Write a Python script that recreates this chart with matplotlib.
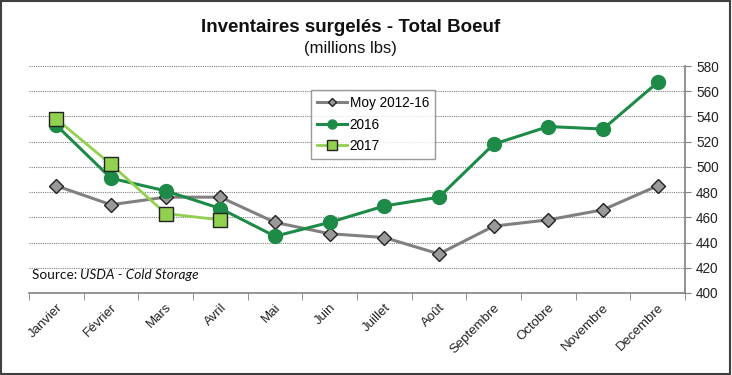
import numpy as np
import matplotlib
matplotlib.use("Agg")
import matplotlib.pyplot as plt

mois = ['Janvier', 'Février', 'Mars', 'Avril', 'Mai', 'Juin', 'Juillet',
        'Août', 'Septembre', 'Octobre', 'Novembre', 'Decembre']
moy = [485, 470, 476, 476, 456, 447, 444, 431, 453, 458, 466, 485]
an2016 = [533, 491, 481, 467, 445, 456, 469, 476, 518, 532, 530, 567]
an2017 = [538, 502, 463, 458]

plt.rcParams['font.family'] = ['Liberation Sans', 'DejaVu Sans']

fig = plt.figure(figsize=(7.32, 3.75), dpi=100)
ax = fig.add_axes([29/732, 1-293/375, (685-29)/732, (293-66)/375])

x = np.arange(len(mois))
l1, = ax.plot(x, moy, color='#808080', lw=2.2, marker='D', ms=7,
              mfc='#999999', mec='#222222', mew=1.0, label='Moy 2012-16', zorder=3)
l2, = ax.plot(x, an2016, color='#1E8A48', lw=2.2, marker='o', ms=10,
              mfc='#1E8A48', mec='#1E8A48', label='2016', zorder=4)
l3, = ax.plot(np.arange(len(an2017)), an2017, color='#92D050', lw=2.0, marker='s', ms=10,
              mfc='#92D050', mec='#222222', mew=1.0, label='2017', zorder=5)

ax.set_xlim(-0.5, len(mois) - 0.5)
ax.set_ylim(400, 580)
ax.set_yticks(range(400, 581, 20))
ax.yaxis.tick_right()
ax.tick_params(axis='y', direction='out', length=4, color='#808080',
               labelsize=9.8, pad=4, labelcolor='#222222')
ax.set_xticks(x)
ax.set_xticklabels(mois, rotation=45, ha='right', rotation_mode='anchor',
                   fontsize=9.5, color='#222222')
ax.set_xticks(np.arange(-0.5, len(mois)), minor=True)
ax.tick_params(axis='x', which='major', length=0, pad=6)
ax.tick_params(axis='x', which='minor', length=5, color='#808080')

for v in range(420, 581, 20):
    ax.axhline(v, color='#808080', lw=0.8, ls=(0, (1, 1)), zorder=1)

for s in ['top', 'left']:
    ax.spines[s].set_visible(False)
for s in ['right', 'bottom']:
    ax.spines[s].set_color('#808080')
    ax.spines[s].set_linewidth(1.2)

leg = ax.legend(handles=[l1, l2, l3], loc='upper left',
                bbox_to_anchor=(311/732, 1-90/375), bbox_transform=fig.transFigure,
                fontsize=9.8, frameon=True, fancybox=False, handlelength=2.2,
                borderpad=0.45, labelspacing=0.55, handletextpad=0.2,
                markerscale=0.65, borderaxespad=0)
leg.get_frame().set_edgecolor('#808080')
leg.get_frame().set_linewidth(1.0)

fig.text(0.479, 1-27/375, 'Inventaires surgelés - Total Boeuf', ha='center', va='center',
         fontsize=13.5, fontweight='bold', color='#111111')
fig.text(0.479, 1-48/375, '(millions lbs)', ha='center', va='center',
         fontsize=12, color='#111111')

fig.text(32/732, 1-275/375, 'Source: ', ha='left', va='center', fontsize=9.8,
         family=['Lato', 'DejaVu Sans'], color='#111111')
fig.text(80/732, 1-275/375, 'USDA - Cold Storage', ha='left', va='center', fontsize=9.8,
         family=['Lato', 'DejaVu Sans'], style='italic', color='#111111')

fig.patches.append(plt.Rectangle((0.002, 0.003), 0.995, 0.994, transform=fig.transFigure,
                                 fill=False, edgecolor='#404040', lw=1.5))

fig.savefig('out.png', dpi=100)
